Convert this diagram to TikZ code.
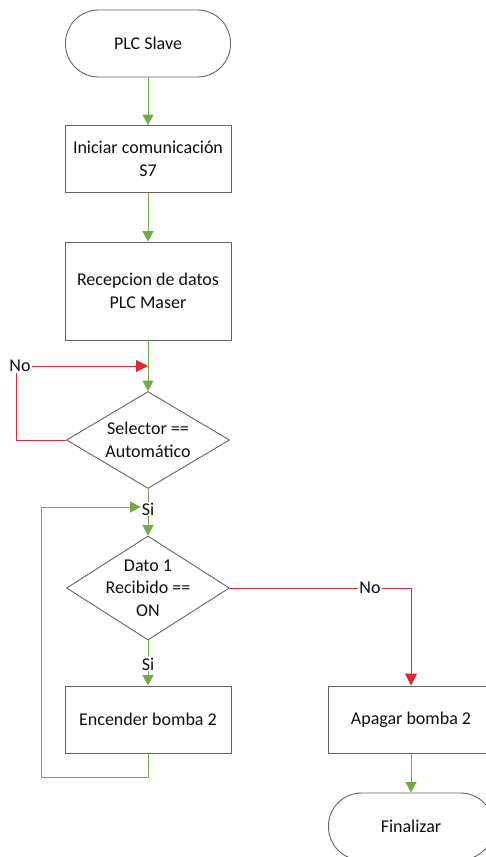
\documentclass[tikz,border=0pt]{standalone}
\usepackage{fontspec}
\setmainfont{Carlito}
\usetikzlibrary{arrows.meta,shapes.geometric}
\definecolor{flowgreen}{RGB}{112,173,71}
\definecolor{flowred}{RGB}{222,40,50}
\definecolor{boxgray}{RGB}{100,100,100}
\definecolor{txt}{RGB}{15,15,15}
\tikzset{
  base/.style={draw=boxgray, line width=0.9pt, text=txt, font=\fontsize{18}{22.5}\selectfont, align=center, inner sep=0pt},
  term/.style={base, rectangle, rounded corners=33pt, minimum width=165pt, minimum height=67pt},
  procbox/.style={base, rectangle, minimum width=166pt, minimum height=67pt},
  dia/.style={base, diamond, minimum width=163pt, minimum height=97pt},
  txtnode/.style={text=txt, font=\fontsize{18}{22.5}\selectfont, align=center, inner sep=0pt},
  lbl/.style={text=txt, font=\fontsize{18}{22.5}\selectfont, fill=white, inner sep=1pt},
  gline/.style={draw=flowgreen, line width=1pt},
  rline/.style={draw=flowred, line width=1pt},
  garrow/.style={gline, -{Triangle[length=10.5pt,width=11pt]}},
  rarrow/.style={rline, -{Triangle[length=12pt,width=12pt]}},
}
\begin{document}
\begin{tikzpicture}[x=1pt,y=-1pt]
\useasboundingbox (0,0) rectangle (485,857);
\fill[white] (0,0) rectangle (485,857);

\node[term] (start) at (148,43.5) {PLC Slave};
\node[procbox] (b1) at (148,159) {Iniciar comunicación\\S7};
\node[procbox, minimum height=98pt] (b2) at (148,291) {Recepcion de datos\\PLC Maser};
\node[dia] (d1) at (148,440) {};
\node[txtnode] (d1t) at (148,440) {Selector ==\\Automático};
\node[dia, minimum height=104pt] (d2) at (148,588) {};
\node[txtnode] (d2t) at (148,588) {Dato 1\\Recibido ==\\ON};
\node[procbox] (b3) at (148,719.5) {Encender bomba 2};
\node[procbox, minimum width=165pt] (b4) at (411,719.5) {Apagar bomba 2};
\node[term] (fin) at (411,826.5) {Finalizar};

\node[lbl] (no1) at (20,366) {No};
\node[lbl] (si1) at (148,509) {Si};
\node[lbl] (no2) at (370,588) {No};
\node[lbl] (si2) at (148,664) {Si};

\coordinate (j1) at (148,366);
\coordinate (lp1) at (148,777);
\coordinate (lp2) at (41,777);
\coordinate (lp3) at (41,507);
\coordinate (rl1) at (16,440);

\draw[garrow] (start) -- (b1);
\draw[garrow] (b1) -- (b2);
\draw[garrow] (b2) -- (d1);
\draw[rline] (d1.west) -- (rl1) -- (rl1 |- no1.south);
\draw[rarrow] (no1.east) -- (j1);
\draw[gline] (d1.south) -- (si1);
\draw[garrow] (si1) -- (d2.north);
\draw[rline] (d2.east) -- (no2.west);
\draw[rarrow] (no2.east) -| (b4.north);
\draw[gline] (d2.south) -- (si2);
\draw[garrow] (si2) -- (b3.north);
\draw[garrow] (b3.south) -- (lp1) -- (lp2) -- (lp3) -- (lp3 -| si1.west);
\draw[garrow] (b4) -- (fin);
\end{tikzpicture}
\end{document}
